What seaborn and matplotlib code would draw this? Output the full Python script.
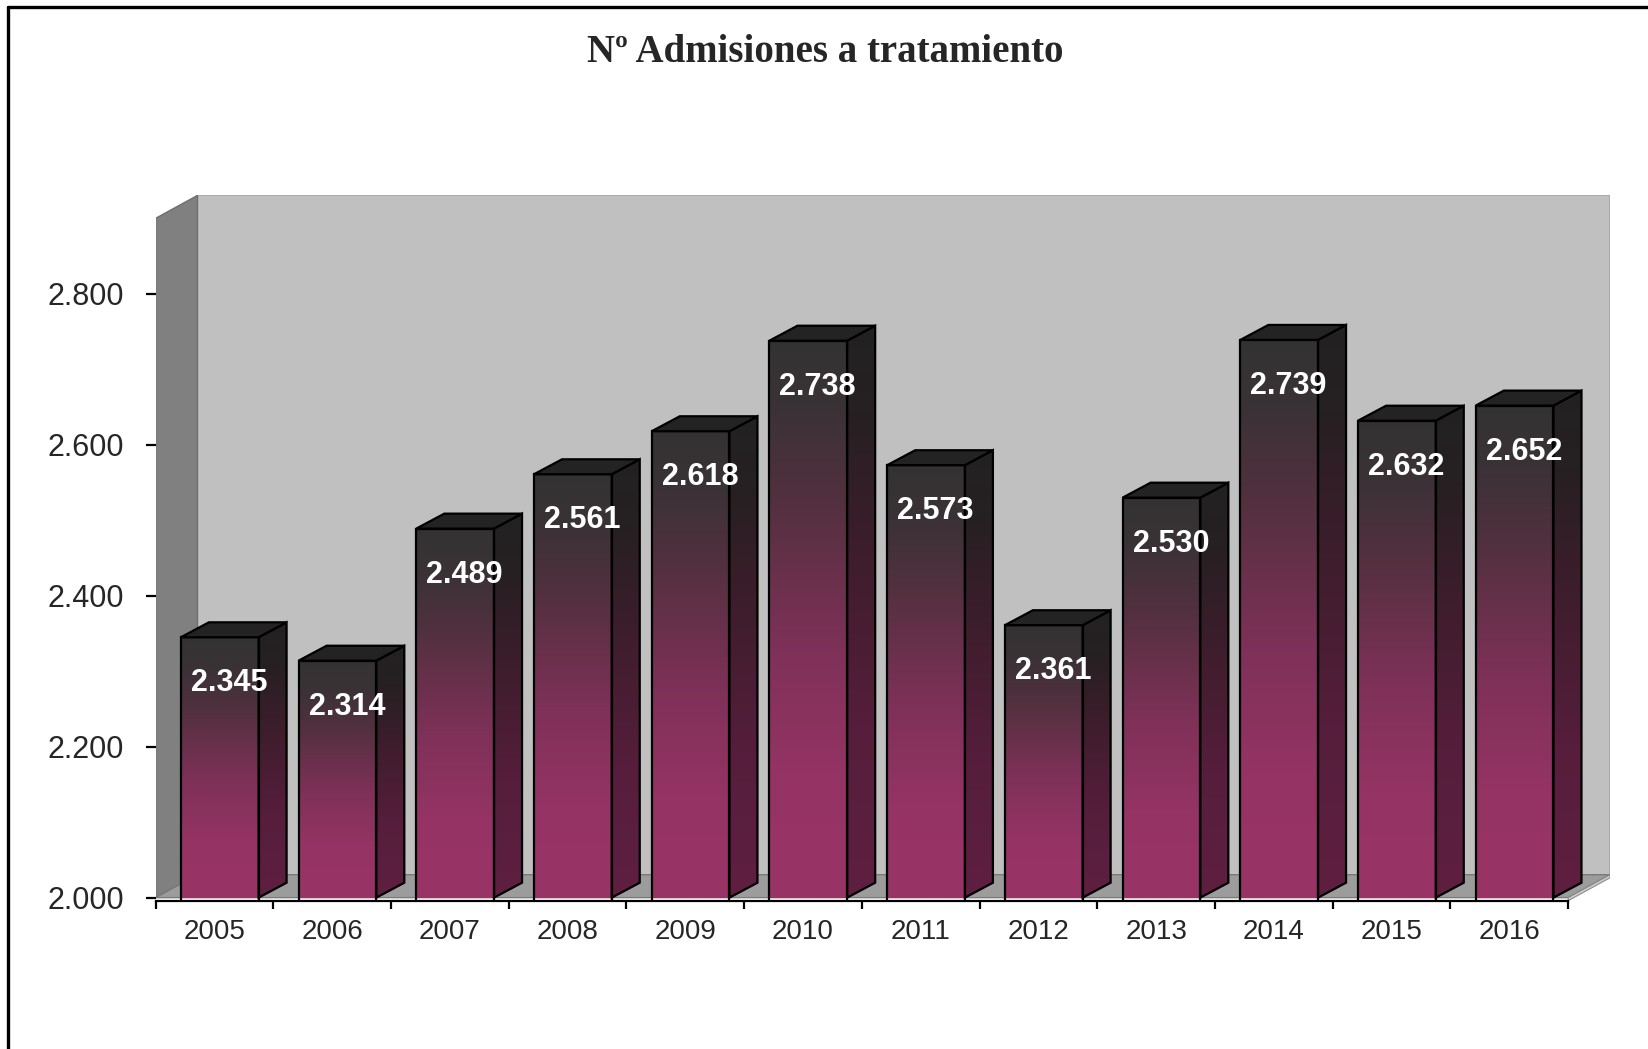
import numpy as np
import matplotlib
matplotlib.use("Agg")
import matplotlib.pyplot as plt
from matplotlib.colors import LinearSegmentedColormap
from matplotlib.patches import Polygon
from matplotlib.lines import Line2D
import seaborn as sns

# data
years = ['2005', '2006', '2007', '2008', '2009', '2010',
         '2011', '2012', '2013', '2014', '2015', '2016']
admisiones = [2345, 2314, 2489, 2561, 2618, 2738, 2573, 2361, 2530, 2739, 2632, 2652]
y_ticks = [2000, 2200, 2400, 2600, 2800]
y_tick_labels = ['2.000', '2.200', '2.400', '2.600', '2.800']

sns.set_style("white")
plt.rcParams['font.family'] = ['Liberation Sans', 'DejaVu Sans']

BASE = 2000
TOP = 2900
WALL_DX, WALL_DY = 0.356, 30.4   # depth of the fake 3D walls
BAR_DX, BAR_DY = 0.238, 19.8     # depth of the bars
BAR_SHIFT = 0.045                # bars sit a little right of the category centre

front_cmap = LinearSegmentedColormap.from_list(
    'front', [(0.0, '#993366'), (0.2, '#963465'), (0.45, '#7e3158'),
              (0.7, '#553040'), (0.88, '#3a3236'), (1.0, '#333333')])
side_cmap = LinearSegmentedColormap.from_list(
    'side', [(0.0, '#5f1f41'), (0.3, '#561e3c'), (0.6, '#3e1d2c'),
             (0.85, '#262022'), (1.0, '#222222')])
grad = np.linspace(0, 1, 256).reshape(-1, 1)

fig = plt.figure(figsize=(16.48, 10.49), dpi=100)
ax = fig.add_axes([0.0944, 0.1414, 0.8826, 0.6723])

# walls and floor
ax.add_patch(Polygon([(-0.5 + WALL_DX, BASE + WALL_DY), (-0.5 + WALL_DX, TOP + WALL_DY),
                      (11.5 + WALL_DX, TOP + WALL_DY), (11.5 + WALL_DX, BASE + WALL_DY)],
                     closed=True, facecolor='#c0c0c0', edgecolor='#a6a6a6', lw=1.2, zorder=0))
ax.add_patch(Polygon([(-0.5, BASE), (-0.5, TOP), (-0.5 + WALL_DX, TOP + WALL_DY),
                      (-0.5 + WALL_DX, BASE + WALL_DY)],
                     closed=True, facecolor='#808080', edgecolor='#6e6e6e', lw=1, zorder=1))
ax.add_patch(Polygon([(-0.5, BASE), (11.5, BASE), (11.5 + WALL_DX, BASE + WALL_DY),
                      (-0.5 + WALL_DX, BASE + WALL_DY)],
                     closed=True, facecolor='#9c9c9c', edgecolor='#7a7a7a', lw=1, zorder=1))
ax.add_patch(Polygon([(11.5, BASE - 4), (11.5, BASE), (11.5 + WALL_DX, BASE + WALL_DY),
                      (11.5 + WALL_DX, BASE + WALL_DY - 4)],
                     closed=True, facecolor='#d0d0d0', edgecolor='#8a8a8a', lw=0.8, zorder=1))

sns.barplot(x=years, y=admisiones, ax=ax, width=0.66, color='#993366',
            edgecolor='black', linewidth=1.6, zorder=3)

for p, v in zip(ax.patches[4:], admisiones):
    p.set_x(p.get_x() + BAR_SHIFT)
    x0 = p.get_x()
    x1 = x0 + p.get_width()
    # front face gradient
    ax.imshow(grad, extent=[x0, x1, BASE, v], origin='lower', aspect='auto',
              cmap=front_cmap, zorder=3)
    p.set_facecolor('none')
    p.set_zorder(5)
    # side face
    side = Polygon([(x1, BASE), (x1 + BAR_DX, BASE + BAR_DY), (x1 + BAR_DX, v + BAR_DY), (x1, v)],
                   closed=True, facecolor='none', edgecolor='black', lw=1.6, zorder=5)
    ax.add_patch(side)
    im = ax.imshow(grad, extent=[x1, x1 + BAR_DX, BASE, v + BAR_DY], origin='lower',
                   aspect='auto', cmap=side_cmap, zorder=3)
    im.set_clip_path(side)
    # top face
    ax.add_patch(Polygon([(x0, v), (x0 + BAR_DX, v + BAR_DY), (x1 + BAR_DX, v + BAR_DY), (x1, v)],
                         closed=True, facecolor='#232323', edgecolor='black', lw=1.6, zorder=5))
    ax.text((x0 + x1) / 2 + 0.08, v - 61, f"{v / 1000:.3f}", color='white',
            fontsize=22, fontweight='bold', ha='center', va='center', zorder=6)

ax.set_xlim(-0.5, 11.5 + WALL_DX)
ax.set_ylim(BASE - 4, TOP + WALL_DY)

for s in ['top', 'right', 'left']:
    ax.spines[s].set_visible(False)
ax.spines['bottom'].set_bounds(-0.5, 11.5)
ax.spines['bottom'].set_linewidth(1.6)
ax.spines['bottom'].set_color('black')
ax.spines['bottom'].set_zorder(7)

ax.set_yticks(y_ticks)
ax.set_yticklabels(y_tick_labels)
ax.tick_params(axis='y', direction='out', length=7, width=1.6, color='black',
               labelsize=22, pad=16, left=True)
ax.set_xticks(range(len(years)))
ax.set_xticklabels(years)
ax.set_xticks(np.arange(-0.5, 12, 1), minor=True)
ax.tick_params(axis='x', which='major', length=0, labelsize=20, pad=13)
ax.tick_params(axis='x', which='minor', direction='out', length=6, width=1.6,
               color='black', bottom=True)
ax.set_xlabel('')
ax.set_ylabel('')
ax.grid(False)

fig.text(0.501, 1 - 62 / 1049, 'Nº Admisiones a tratamiento', family='Liberation Serif',
         fontweight='bold', fontsize=28, ha='center', va='baseline')

# outer frame (left and top edge)
fig.add_artist(Line2D([8 / 1648, 8 / 1648], [0, 1 - 7 / 1049], transform=fig.transFigure,
                      color='black', lw=2.4))
fig.add_artist(Line2D([8 / 1648, 1], [1 - 7 / 1049, 1 - 7 / 1049], transform=fig.transFigure,
                      color='black', lw=2.4))

fig.savefig('out.png', dpi=100)
